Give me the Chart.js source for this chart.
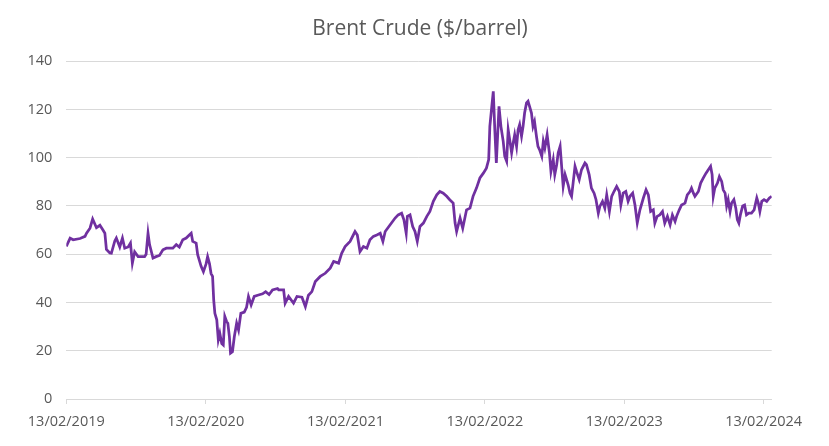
<!DOCTYPE html>
<html>
<head>
<meta charset="utf-8">
<title>Brent Crude</title>
<script src="https://cdn.jsdelivr.net/npm/chart.js@4.4.0/dist/chart.umd.min.js"></script>
<style>
  body { margin: 0; background: #fff; }
  #wrap { width: 829px; height: 446px; }
</style>
</head>
<body>
<div id="wrap"><canvas id="brent-chart" width="829" height="446"></canvas></div>
<script>
// Days since 13/02/2019
const dayOffsets = [
  0, 10, 18, 36, 49, 53, 62, 69, 79, 88, 96, 101, 105, 114, 118, 127, 131, 140, 147, 153,
  162, 168, 173, 179, 188, 205, 209, 214, 218, 227, 235, 244, 253, 262, 279, 288, 296, 305, 314, 322,
  327, 331, 340, 344, 353, 359, 366, 370, 375, 379, 383, 386, 389, 394, 398, 402, 407, 411, 415, 420,
  423, 427, 430, 435, 440, 446, 451, 457, 466, 472, 477, 484, 492, 501, 514, 522, 531, 540, 553, 556,
  569, 573, 582, 595, 604, 617, 626, 634, 643, 652, 665, 678, 691, 700, 713, 721, 730, 743, 756, 762,
  769, 778, 787, 795, 804, 813, 822, 829, 835, 848, 861, 869, 878, 884, 890, 893, 900, 907, 913, 919,
  926, 935, 944, 952, 961, 970, 978, 987, 996, 1004, 1013, 1018, 1022, 1031, 1038, 1048, 1057, 1065, 1074, 1083,
  1092, 1100, 1106, 1109, 1118, 1122, 1126, 1133, 1138, 1144, 1148, 1153, 1157, 1161, 1166, 1170, 1174, 1179, 1183, 1187,
  1192, 1196, 1200, 1205, 1209, 1213, 1218, 1222, 1226, 1231, 1235, 1240, 1245, 1249, 1253, 1259, 1265, 1269, 1275, 1279,
  1284, 1288, 1293, 1297, 1301, 1306, 1310, 1314, 1319, 1323, 1327, 1332, 1336, 1343, 1349, 1358, 1362, 1369, 1375, 1382,
  1387, 1393, 1397, 1404, 1410, 1415, 1422, 1428, 1434, 1441, 1448, 1452, 1458, 1465, 1471, 1476, 1483, 1489, 1495, 1502,
  1511, 1518, 1524, 1530, 1537, 1541, 1547, 1554, 1561, 1567, 1574, 1581, 1587, 1594, 1598, 1605, 1611, 1620, 1626, 1633,
  1637, 1642, 1646, 1655, 1661, 1668, 1675, 1681, 1687, 1691, 1694, 1698, 1705, 1710, 1716, 1720, 1725, 1729, 1733, 1738,
  1742, 1748, 1753, 1757, 1761, 1765, 1771, 1776, 1781, 1787, 1794, 1801, 1808, 1812, 1816, 1821, 1827, 1834, 1841, 1847
];

// Brent price in $/barrel
const prices = [
  63.2, 66.7, 66, 66.5, 67.4, 68.7, 70.8, 74.6, 71, 72, 70, 68.7, 62, 60.5, 60.4, 65.5, 66.7, 63, 66.7, 62.5,
  63, 64.6, 56.3, 61, 59, 59, 60, 68.7, 64, 58.4, 59, 59.5, 61.8, 62.5, 62.5, 64, 63, 66, 66.7, 68,
  68.7, 65.3, 64.6, 59.8, 55, 52.8, 56, 59, 56, 52, 50.8, 41, 35.5, 32.8, 24.5, 27.2, 23, 22.4, 34.2, 32,
  31.4, 25.9, 19, 19.6, 25.9, 31.4, 28.6, 35.5, 36, 38, 42.5, 39, 42.5, 43, 43.6, 44.5, 43.3, 45.2, 45.8, 45.2,
  45.2, 39.7, 42.5, 39.7, 42.5, 42.2, 38.3, 43, 44.5, 48.7, 50.8, 52.1, 54.2, 57, 56.3, 60.4, 63.2, 65.3, 69.4, 68,
  61.1, 63.2, 62.5, 66, 67.4, 68, 68.7, 65.3, 69.4, 72.2, 75, 76.3, 77, 74.3, 68.7, 75.7, 76.3, 71.5, 69.4, 65.3,
  71.5, 72.9, 75.7, 77.7, 81.9, 84.6, 86, 85.3, 84, 82.6, 81.2, 72.9, 69.4, 75, 70.8, 78.4, 79.1, 84, 87.4, 91.6,
  93.6, 95.7, 99.2, 113, 127.5, 111.6, 97.8, 121.3, 113, 106.8, 100.6, 98.5, 111.6, 107.5, 102, 106, 109.5, 104.7, 111.6, 113.7,
  108.9, 113, 118.5, 122.7, 123.4, 121.3, 118.5, 113, 115, 108.9, 104.7, 103, 100.6, 106.8, 104, 109.5, 102, 94.3, 99.2, 93,
  97.1, 102, 104.7, 96.4, 88.1, 93, 90.9, 88.8, 85.3, 84, 89.5, 96.4, 94.3, 90.9, 95, 97.8, 97.1, 93, 87.4, 85.3,
  82.6, 77, 79.8, 81.9, 79.1, 84.6, 77.7, 84, 86, 88.1, 86, 80.4, 85.3, 86, 81.9, 84, 85.3, 80.4, 72.9, 78.4,
  83.3, 86.7, 84.6, 77.7, 78.4, 72.9, 75.7, 76.3, 77.7, 72.9, 75.7, 72.2, 76.3, 73.6, 75.7, 78.4, 80.4, 81.2, 84.6, 86,
  87.4, 85.3, 84, 86, 89.5, 91.6, 93.6, 95, 96.4, 93, 84, 87.4, 89.5, 92.2, 90.2, 86.7, 85.3, 80, 82.6, 77.7,
  81.2, 82.6, 79.1, 74.3, 72.9, 76.3, 80, 80.4, 76.3, 77, 77, 78.4, 83.3, 81.2, 77.7, 81.9, 82.6, 81.9, 83.3, 84
];

// Axis ticks
const tickDays = [0, 365, 731, 1096, 1461, 1826];
const tickLabels = ['13/02/2019', '13/02/2020', '13/02/2021', '13/02/2022', '13/02/2023', '13/02/2024'];
const lastDay = 1847;

const textColor = '#595959';
const gridColor = '#d9d9d9';

const points = dayOffsets.map((d, i) => ({ x: d, y: prices[i] }));

const ctx = document.getElementById('brent-chart').getContext('2d');
new Chart(ctx, {
    type: 'line',
    data: {
        datasets: [{
            label: 'Brent Crude',
            data: points,
            borderColor: '#7030A0',
            borderWidth: 2.75,
            pointRadius: 0,
            tension: 0,
            fill: false
        }]
    },
    options: {
        responsive: false,
        animation: false,
        layout: { padding: { left: 11, right: 0, top: 0, bottom: 0 } },
        plugins: {
            legend: { display: false },
            tooltip: { enabled: false },
            title: {
                display: true,
                text: 'Brent Crude ($/barrel)',
                color: textColor,
                font: { family: 'Open Sans', size: 21, weight: 'normal' },
                padding: { top: 16, bottom: 20 }
            }
        },
        scales: {
            x: {
                type: 'linear',
                min: 0,
                max: lastDay,
                afterBuildTicks: scale => {
                    scale.ticks = tickDays.map(v => ({ value: v }));
                },
                afterFit: scale => { scale.height = 47; },
                ticks: {
                    autoSkip: false,
                    maxRotation: 0,
                    padding: 9,
                    color: textColor,
                    font: { family: 'Open Sans', size: 14.5 },
                    callback: (value, index) => tickLabels[index]
                },
                grid: {
                    drawOnChartArea: false,
                    drawTicks: true,
                    tickLength: 5,
                    color: gridColor
                },
                border: { display: true, color: gridColor, width: 1 }
            },
            y: {
                min: 0,
                max: 140,
                afterFit: scale => { scale.width = 55.3; },
                ticks: {
                    stepSize: 20,
                    padding: 14,
                    color: textColor,
                    font: { family: 'Open Sans', size: 14.5 }
                },
                grid: {
                    color: gridColor,
                    drawTicks: false
                },
                border: { display: false }
            },
            // empty axis that keeps the right margin
            yRight: {
                position: 'right',
                min: 0,
                max: 140,
                afterFit: scale => { scale.width = 57.3; },
                ticks: { display: false },
                grid: { display: false },
                border: { display: false }
            }
        }
    }
});
</script>
</body>
</html>
